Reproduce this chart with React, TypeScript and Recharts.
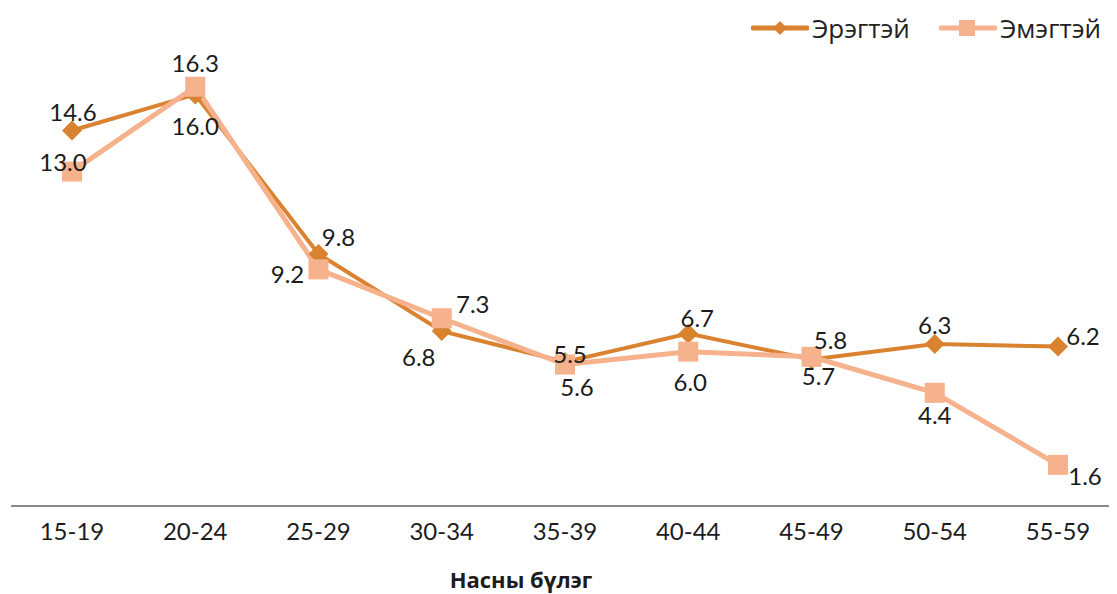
import React from 'react';
import { LineChart, Line, XAxis, YAxis, Legend } from 'recharts';

const categories = ['15-19', '20-24', '25-29', '30-34', '35-39', '40-44', '45-49', '50-54', '55-59'];
const maleValues = [14.6, 16.0, 9.8, 6.8, 5.6, 6.7, 5.7, 6.3, 6.2];
const femaleValues = [13.0, 16.3, 9.2, 7.3, 5.5, 6.0, 5.8, 4.4, 1.6];
const seriesNames = ['Эрэгтэй', 'Эмэгтэй'];
const axisTitle = 'Насны бүлэг';

const data = categories.map((c, i) => ({ group: c, male: maleValues[i], female: femaleValues[i] }));

const MALE = '#D9822F';
const FEMALE = '#F6B28D';
const TEXT = '#1c1c1c';
const FONT = 'Lato, "Open Sans", sans-serif';

// label offsets (style only)
const maleLabelOffsets = [[1, -19], [0, 31], [20, -17], [-23, 25], [12, 25], [9, -16], [7, 16], [0, -19], [25, -11]];
const femaleLabelOffsets = [[-9, -10], [0, -24], [-31, 4], [31, -15], [5, -11], [2, 30], [19, -17], [0, 22], [27, 11]];

const Diamond = (props: any) => {
  const { cx, cy, index } = props;
  if (cx == null || cy == null) return null;
  const r = 10;
  return <path key={`d-${index}`} d={`M${cx},${cy - r}L${cx + r},${cy}L${cx},${cy + r}L${cx - r},${cy}Z`} fill={MALE} />;
};

const Square = (props: any) => {
  const { cx, cy, index } = props;
  if (cx == null || cy == null) return null;
  const s = 20;
  return <rect key={`s-${index}`} x={cx - s / 2} y={cy - s / 2} width={s} height={s} fill={FEMALE} />;
};

const makeLabel = (offsets: number[][]) => (props: any) => {
  const { x, y, value, index } = props;
  const o = offsets[index] || [0, -15];
  return (
    <text key={`l-${index}`} x={x + o[0]} y={y + o[1]} textAnchor="middle" dominantBaseline="central"
      fontSize={24} fill={TEXT} fontFamily={FONT}>
      {Number(value).toFixed(1)}
    </text>
  );
};

const LegendContent = () => (
  <div style={{ display: 'flex', justifyContent: 'flex-end', alignItems: 'center', height: 30, fontFamily: '"Open Sans", "Noto Sans", sans-serif', fontSize: 26, color: '#222' }}>
    <svg width={58} height={20} style={{ marginRight: 3 }}>
      <line x1={2} y1={10} x2={56} y2={10} stroke={MALE} strokeWidth={5} strokeLinecap="round" />
      <path d="M29,3L36,10L29,17L22,10Z" fill={MALE} />
    </svg>
    <span style={{ marginRight: 29 }}>{seriesNames[0]}</span>
    <svg width={58} height={20} style={{ marginRight: 3 }}>
      <line x1={2} y1={10} x2={56} y2={10} stroke={FEMALE} strokeWidth={5} strokeLinecap="round" />
      <rect x={20} y={2} width={16} height={16} fill={FEMALE} />
    </svg>
    <span style={{ marginRight: 16 }}>{seriesNames[1]}</span>
  </div>
);

export default function App() {
  return (
    <LineChart width={1109} height={586} data={data} margin={{ top: 5, right: 0, left: 3, bottom: 0 }}>
      <Legend verticalAlign="top" align="right" height={30} content={<LegendContent />} />
      <XAxis
        dataKey="group"
        scale="point"
        padding={{ left: 61, right: 59 }}
        axisLine={{ stroke: '#8a8a8a', strokeWidth: 2 }}
        tickLine={false}
        tickSize={0}
        tickMargin={17}
        height={88}
        tick={{ fontSize: 24, fill: TEXT, fontFamily: FONT }}
        label={{ value: axisTitle, position: 'insideBottom', offset: 6, dx: -43, fontSize: 22, fontWeight: 700, fill: TEXT, fontFamily: '"Open Sans", sans-serif' }}
      />
      <YAxis hide domain={[0, 18]} />
      <Line dataKey="male" name={seriesNames[0]} stroke={MALE} strokeWidth={4} dot={Diamond} activeDot={false}
        label={makeLabel(maleLabelOffsets)} isAnimationActive={false} />
      <Line dataKey="female" name={seriesNames[1]} stroke={FEMALE} strokeWidth={5} dot={Square} activeDot={false}
        label={makeLabel(femaleLabelOffsets)} isAnimationActive={false} />
    </LineChart>
  );
}
